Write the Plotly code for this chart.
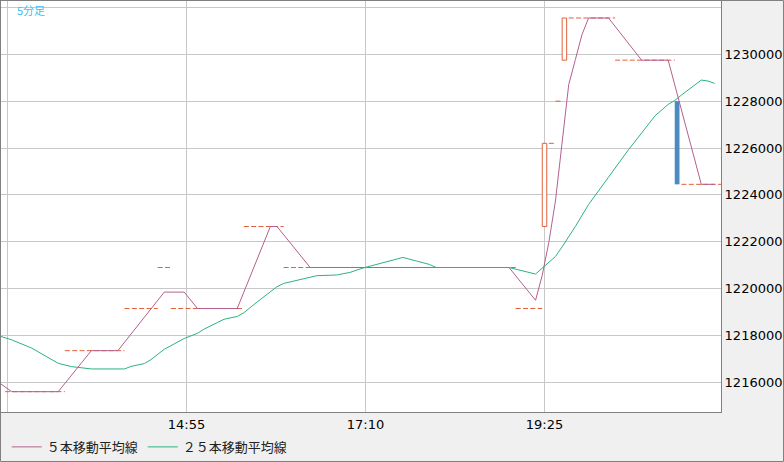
import plotly.graph_objects as go

# 5-minute bars, bar index 0 = 12:40
TICK_BARS = [0, 27, 54, 81]
TICK_TEXT = ["", "14:55", "17:10", "19:25"]

Y_TICKS = [12160000, 12180000, 12200000, 12220000, 12240000, 12260000, 12280000, 12300000, 12320000]

# runs of flat bars (open = high = low = close)
FLAT_FROM = [0, 9, 18, 23, 25, 36, 42, 77, 82, 83, 85, 92, 102]
FLAT_TO = [8, 17, 22, 24, 35, 41, 76, 80, 82, 83, 91, 100, 107]
FLAT_PRICE = [12156000, 12173500, 12191500, 12209000, 12191500, 12226500, 12209000,
              12191500, 12262000, 12280000, 12315500, 12297500, 12244500]

# bars with a body
BODY_BAR = [81, 84, 101]
BODY_OPEN = [12226500, 12297500, 12280000]
BODY_CLOSE = [12262000, 12315500, 12244500]

MA5_BAR = [-1, 1, 8, 13, 17, 22, 23, 24, 27, 28, 29, 35, 40, 41, 46, 76, 80,
           81, 82, 83, 84, 85, 86, 87, 88, 91, 96, 100, 101, 105, 107]
MA5_VAL = [12160000, 12156000, 12156000, 12173500, 12173500, 12191500, 12195000, 12198500,
           12198500, 12195000, 12191500, 12191500, 12226500, 12226500, 12209000, 12209000,
           12195000, 12205600, 12219700, 12237400, 12262200, 12287000, 12297700, 12308400,
           12315500, 12315500, 12297500, 12297500, 12286900, 12244500, 12244500]

MA25_BAR = [-1, 1, 4, 6, 8, 10, 13, 18, 19, 21, 22, 24, 27, 29, 30, 32, 33, 35, 36, 38,
            40, 41, 42, 44, 46, 47, 50, 52, 54, 60, 62, 64, 65, 76, 80, 81, 82, 83, 84,
            86, 88, 90, 92, 94, 96, 98, 100, 101, 102, 104, 105, 106, 107]
MA25_VAL = [12179900, 12178100, 12174600, 12171200, 12168100, 12166700, 12165700, 12165700,
            12166800, 12168000, 12169700, 12174100, 12178700, 12180900, 12182700, 12185500,
            12186900, 12188100, 12189700, 12194300, 12198600, 12200800, 12202200, 12203500,
            12205000, 12205500, 12205800, 12206900, 12208800, 12213300, 12211800, 12210300,
            12209000, 12209000, 12206200, 12208600, 12211100, 12213700, 12217800, 12226500,
            12235900, 12243600, 12251700, 12259200, 12266400, 12273700, 12278600, 12280300,
            12282600, 12286900, 12289000, 12288600, 12287600]

SHIFT = 0.35  # MA points / flat lines start a bit left of the bar centre

PINK = "#b4608e"
GREEN = "#2db37d"
ORANGE = "#e2603c"
BLUE = "#4a8bc1"
GRID = "#c8c8c8"
FRAME = "#808080"

fig = go.Figure()

# flat bars as dashed horizontal strokes
fx, fy = [], []
for a, b, p in zip(FLAT_FROM, FLAT_TO, FLAT_PRICE):
    fx += [a - SHIFT, b + 1 - SHIFT, None]
    fy += [p, p, None]
fig.add_trace(go.Scatter(x=fx, y=fy, mode="lines", showlegend=False, hoverinfo="skip",
                         line=dict(color=ORANGE, width=1, dash="5px,2.33px")))

up = [i for i in range(len(BODY_BAR)) if BODY_CLOSE[i] >= BODY_OPEN[i]]
down = [i for i in range(len(BODY_BAR)) if BODY_CLOSE[i] < BODY_OPEN[i]]

fig.add_trace(go.Bar(
    x=[BODY_BAR[i] for i in up],
    base=[BODY_OPEN[i] for i in up],
    y=[BODY_CLOSE[i] - BODY_OPEN[i] for i in up],
    width=0.68, showlegend=False,
    marker=dict(color="white", line=dict(color=ORANGE, width=1)),
))
fig.add_trace(go.Bar(
    x=[BODY_BAR[i] for i in down],
    base=[BODY_CLOSE[i] for i in down],
    y=[BODY_OPEN[i] - BODY_CLOSE[i] for i in down],
    width=0.72, showlegend=False,
    marker=dict(color=BLUE, line=dict(width=0)),
))

fig.add_trace(go.Scatter(x=[b - SHIFT for b in MA5_BAR], y=MA5_VAL, mode="lines",
                         name="５本移動平均線", line=dict(color=PINK, width=1)))
fig.add_trace(go.Scatter(x=[b - SHIFT for b in MA25_BAR], y=MA25_VAL, mode="lines",
                         name="２５本移動平均線", line=dict(color=GREEN, width=1)))

fig.update_layout(
    width=784, height=462,
    margin=dict(l=1, r=63, t=1, b=50, autoexpand=False),
    paper_bgcolor="#f0f0f0",
    plot_bgcolor="white",
    barmode="overlay",
    font=dict(family="DejaVu Sans", size=13, color="black"),
    xaxis=dict(
        range=[-0.98, 107.62], automargin=False,
        tickvals=TICK_BARS, ticktext=TICK_TEXT,
        showgrid=True, gridcolor=GRID, gridwidth=1,
        zeroline=False, ticks="",
        showline=True, mirror=True, linecolor=FRAME, linewidth=1,
        tickfont=dict(family="DejaVu Sans", size=13, color="black"),
    ),
    yaxis=dict(
        side="right", automargin=False,
        range=[12147322, 12322750],
        tickvals=Y_TICKS,
        ticktext=[str(v) if v < 12320000 else "" for v in Y_TICKS],
        showgrid=True, gridcolor=GRID, gridwidth=1,
        zeroline=False, ticks="",
        showline=True, mirror=True, linecolor=FRAME, linewidth=1,
        tickfont=dict(family="DejaVu Sans", size=13, color="black"),
    ),
    legend=dict(
        orientation="h", x=0.008, xanchor="left", y=-0.085, yanchor="middle",
        font=dict(family="Noto Sans CJK JP", size=13, color="#222222"),
        bgcolor="rgba(0,0,0,0)", itemclick=False,
    ),
    annotations=[dict(
        text="5分足", xref="paper", yref="paper", x=0.0194, y=0.978,
        xanchor="left", yanchor="middle", showarrow=False,
        font=dict(family="Noto Sans CJK JP", size=11, color="#40c0f0"),
    )],
    shapes=[dict(
        type="rect", xref="paper", yref="paper",
        x0=-0.0007, x1=1.0868, y0=-0.1204, y1=1.0012,
        line=dict(color=FRAME, width=1), fillcolor="rgba(0,0,0,0)",
    )],
)

fig.write_html(
    "out.html",
    config={"displayModeBar": False},
    post_script="document.body.style.margin='0';document.body.style.overflow='hidden';",
)
